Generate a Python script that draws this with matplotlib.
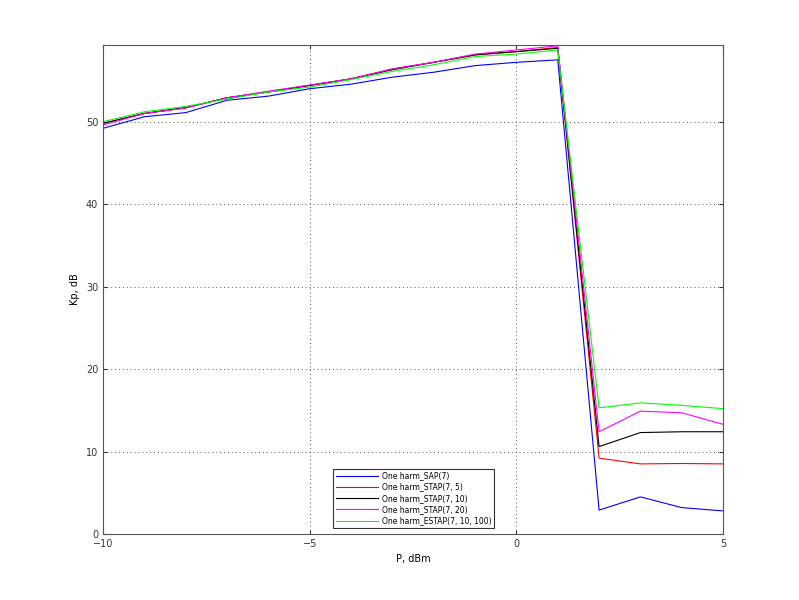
import matplotlib
matplotlib.use("Agg")
import matplotlib.pyplot as plt

p_dbm = [-10, -9, -8, -7, -6, -5, -4, -3, -2, -1, 0, 1, 2, 3, 4, 5]

sap_7 = [49.2, 50.6, 51.1, 52.6, 53.1, 54.0, 54.55, 55.4, 56.0, 56.8, 57.2, 57.5, 2.9, 4.5, 3.2, 2.8]
stap_7_5 = [49.8, 51.0, 51.7, 52.9, 53.6, 54.4, 55.2, 56.4, 57.2, 58.1, 58.5, 59.0, 9.2, 8.5, 8.55, 8.5]
stap_7_10 = [49.8, 51.0, 51.7, 52.9, 53.6, 54.4, 55.2, 56.3, 57.2, 58.1, 58.5, 58.9, 10.6, 12.3, 12.4, 12.4]
stap_7_20 = [49.6, 51.0, 51.65, 52.9, 53.7, 54.45, 55.2, 56.4, 57.2, 58.2, 58.7, 59.2, 12.4, 14.9, 14.7, 13.3]
estap_7_10_100 = [50.0, 51.2, 51.85, 52.75, 53.6, 54.2, 55.1, 56.1, 56.9, 57.9, 58.2, 58.7, 15.3, 15.9, 15.6, 15.2]

labels = ["One harm_SAP(7)", "One harm_STAP(7, 5)", "One harm_STAP(7, 10)",
          "One harm_STAP(7, 20)", "One harm_ESTAP(7, 10, 100)"]
colors = ["#0000ff", "#ff0000", "#000000", "#ff00ff", "#00ff00"]
series = [sap_7, stap_7_5, stap_7_10, stap_7_20, estap_7_10_100]

x_ticks = [-10, -5, 0, 5]
y_ticks = [0, 10, 20, 30, 40, 50]

plt.rcParams['font.family'] = ['DejaVu Sans']
fig = plt.figure(figsize=(7.99, 6.0), dpi=100)
ax = fig.add_axes([0.129, 0.11, 0.776, 0.815])

for ys, c, lab in zip(series, colors, labels):
    ax.plot(p_dbm, ys, color=c, lw=0.8, label=lab)

ax.set_xlim(-10, 5)
ax.set_ylim(0, 59.3)
ax.set_xticks(x_ticks)
ax.set_yticks(y_ticks)
ax.tick_params(direction='in', length=3, labelsize=7, colors='#333333', top=True, right=True)
ax.grid(True, linestyle=(0, (1, 3)), color='#555555', lw=0.7)
for s in ax.spines.values():
    s.set_color('#555555')
    s.set_linewidth(0.8)
ax.set_xlabel("P, dBm", fontsize=7)
ax.set_ylabel("Kp, dB", fontsize=7)

leg = ax.legend(loc='lower left', bbox_to_anchor=(0.371, 0.012), borderaxespad=0,
                fontsize=5.5, fancybox=False, framealpha=1, edgecolor='#333333',
                handlelength=5.5, handletextpad=0.5, borderpad=0.35, labelspacing=0.3)
leg.get_frame().set_linewidth(0.8)

fig.savefig("out.png", dpi=100)
